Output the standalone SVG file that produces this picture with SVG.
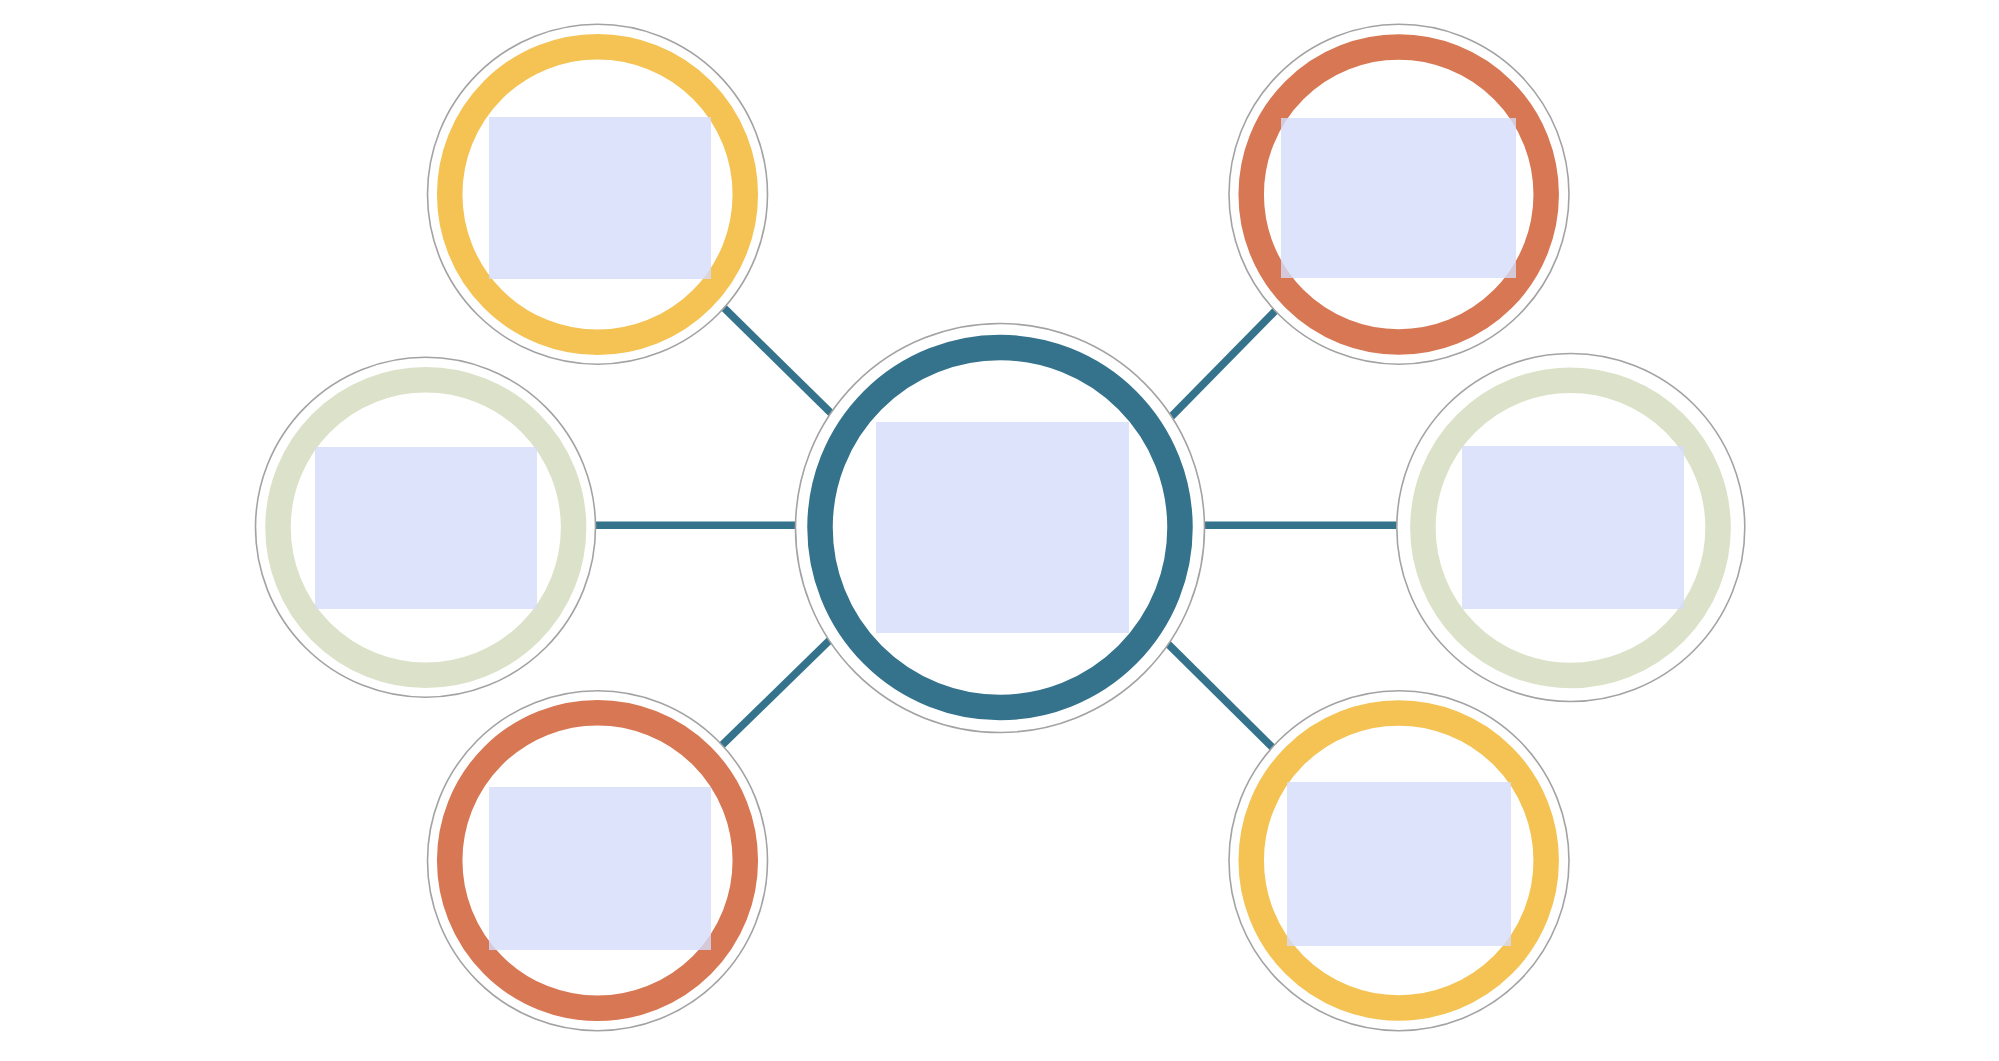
<svg xmlns="http://www.w3.org/2000/svg" width="1999" height="1061" viewBox="0 0 1999 1061">
<style>
.halo{fill:#ffffff;stroke:#a3a3a3;stroke-width:1.6}
.ring{fill:none;stroke-width:25.5}
.yellow{stroke:#f4c354}
.orange{stroke:#d87753}
.sage{stroke:#dce2c9}
.teal{stroke:#35738c}
.box{fill:#d5dcfa;fill-opacity:0.8}
.conn{stroke:#35738c;stroke-width:7.5;fill:none}
</style>
<rect x="0" y="0" width="1999" height="1061" fill="#ffffff"/>
<g id="connectors">
<line class="conn" x1="590" y1="525.2" x2="800" y2="525.2"/>
<line class="conn" x1="1200" y1="525.2" x2="1402" y2="525.2"/>
<line class="conn" x1="715" y1="299" x2="838" y2="420"/>
<line class="conn" x1="1167" y1="421" x2="1283" y2="303"/>
<line class="conn" x1="716" y1="751" x2="836" y2="634"/>
<line class="conn" x1="1161" y1="637" x2="1278" y2="753"/>
</g>
<g id="node-center">
<circle class="halo" cx="1000" cy="528" r="204.5"/>
<circle class="ring teal" cx="1000" cy="527.5" r="180"/>
<rect class="box" x="876" y="422" width="253" height="211"/>
</g>
<g id="node-top-left">
<circle class="halo" cx="597.5" cy="194.3" r="170"/>
<circle class="ring yellow" cx="597.5" cy="194.5" r="147.8"/>
<rect class="box" x="489" y="117" width="222" height="162"/>
</g>
<g id="node-top-right">
<circle class="halo" cx="1399" cy="194.3" r="170"/>
<circle class="ring orange" cx="1398.7" cy="194.5" r="147.5"/>
<rect class="box" x="1281" y="118" width="235" height="160"/>
</g>
<g id="node-left">
<circle class="halo" cx="425.5" cy="527.3" r="170"/>
<circle class="ring sage" cx="425.8" cy="527.5" r="147.8"/>
<rect class="box" x="315" y="447" width="222" height="162"/>
</g>
<g id="node-right">
<circle class="halo" cx="1570.8" cy="527.5" r="174"/>
<circle class="ring sage" cx="1570.5" cy="527.8" r="147.6"/>
<rect class="box" x="1462" y="446" width="222" height="163"/>
</g>
<g id="node-bottom-left">
<circle class="halo" cx="597.5" cy="860.7" r="170"/>
<circle class="ring orange" cx="597.5" cy="860.5" r="147.8"/>
<rect class="box" x="489" y="787" width="222" height="163"/>
</g>
<g id="node-bottom-right">
<circle class="halo" cx="1399" cy="860.7" r="170"/>
<circle class="ring yellow" cx="1398.7" cy="860.5" r="147.5"/>
<rect class="box" x="1287" y="782" width="224" height="164"/>
</g>
</svg>
